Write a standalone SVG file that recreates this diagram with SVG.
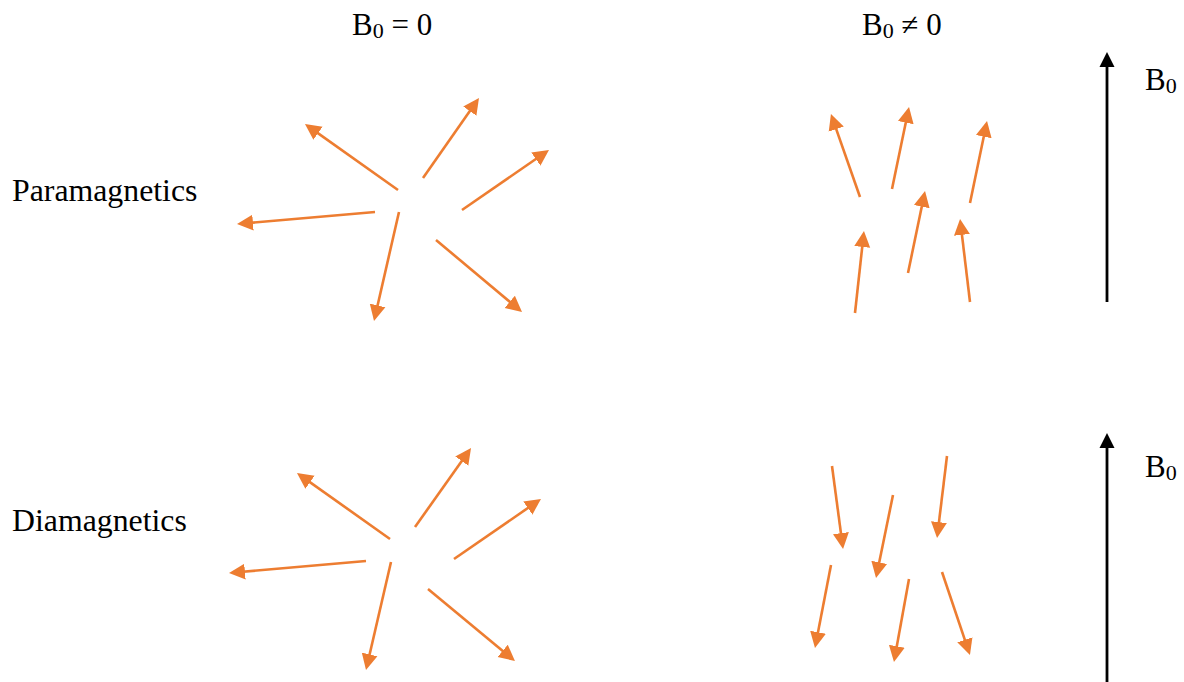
<svg xmlns="http://www.w3.org/2000/svg" width="1184" height="682" viewBox="0 0 1184 682">
<style>
text{font-family:"Liberation Serif","Times New Roman",serif;font-size:31px;fill:#000}
.side{font-size:31.8px}
.sub{font-size:22px}
.o{stroke:#ED7D31;stroke-width:2.6;fill:none;marker-end:url(#ho)}
.k{stroke:#000;stroke-width:2.8;fill:none;marker-end:url(#hk)}
</style>
<defs>
<marker id="ho" markerUnits="userSpaceOnUse" markerWidth="18" markerHeight="18" viewBox="0 -9 18 18" refX="8" refY="0" orient="auto"><path d="M0,-8 L16,0 L0,8 z" fill="#ED7D31"/></marker>
<marker id="hk" markerUnits="userSpaceOnUse" markerWidth="16" markerHeight="16" viewBox="0 -8 16 16" refX="7" refY="0" orient="auto"><path d="M0,-7.5 L15,0 L0,7.5 z" fill="#000"/></marker>
</defs>
<rect width="1184" height="682" fill="#fff"/>
<g id="labels">
<text x="352" y="35">B<tspan class="sub" dy="3">0</tspan><tspan dy="-3"> = 0</tspan></text>
<text x="862" y="35">B<tspan class="sub" dy="3">0</tspan><tspan dy="-3"> ≠ 0</tspan></text>
<text class="side" x="12" y="201">Paramagnetics</text>
<text class="side" x="12" y="531">Diamagnetics</text>
<text x="1145" y="90">B<tspan class="sub" dy="3">0</tspan></text>
<text x="1145" y="477">B<tspan class="sub" dy="3">0</tspan></text>
</g>
<g id="connectors">
<g id="para-random">
<line class="o" x1="398" y1="190" x2="311.5" y2="128.6"/>
<line class="o" x1="423" y1="178" x2="474.4" y2="104.6"/>
<line class="o" x1="462" y1="210" x2="542.4" y2="154.5"/>
<line class="o" x1="375" y1="212" x2="245" y2="223.3"/>
<line class="o" x1="399" y1="212" x2="375.8" y2="313.2"/>
<line class="o" x1="436" y1="240" x2="515.9" y2="306.9"/>
</g>
<g id="dia-random">
<line class="o" x1="390" y1="539" x2="303.5" y2="477.6"/>
<line class="o" x1="415" y1="527" x2="466.4" y2="454.5"/>
<line class="o" x1="454" y1="559" x2="534.4" y2="503.5"/>
<line class="o" x1="366" y1="561" x2="237" y2="572.3"/>
<line class="o" x1="391" y1="562" x2="367.8" y2="662.2"/>
<line class="o" x1="428" y1="589" x2="508.8" y2="655.9"/>
</g>
<g id="para-aligned">
<line class="o" x1="860" y1="197" x2="833.6" y2="121.6"/>
<line class="o" x1="892" y1="189" x2="907.4" y2="114.8"/>
<line class="o" x1="970" y1="203" x2="985.4" y2="128.8"/>
<line class="o" x1="908" y1="273" x2="923.4" y2="198.8"/>
<line class="o" x1="855" y1="313" x2="863.1" y2="239"/>
<line class="o" x1="970" y1="302" x2="961" y2="226.9"/>
</g>
<g id="dia-aligned">
<line class="o" x1="832" y1="466" x2="842" y2="541.1"/>
<line class="o" x1="893" y1="495" x2="877.6" y2="570.2"/>
<line class="o" x1="947" y1="456" x2="938" y2="530.1"/>
<line class="o" x1="831" y1="565" x2="816.5" y2="640.1"/>
<line class="o" x1="909" y1="579" x2="895.4" y2="654.1"/>
<line class="o" x1="942" y1="572" x2="967.4" y2="647.4"/>
</g>
<g id="field">
<line class="k" x1="1107" y1="302" x2="1107" y2="60"/>
<line class="k" x1="1107" y1="682" x2="1107" y2="441"/>
</g>
</g>
</svg>
